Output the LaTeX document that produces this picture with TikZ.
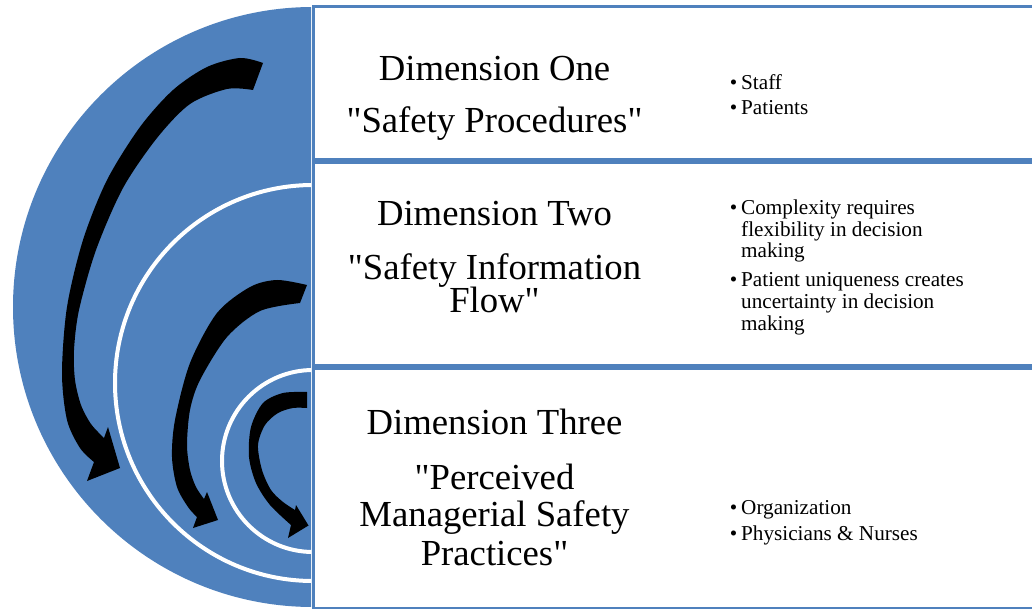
\documentclass[tikz,border=0pt]{standalone}
\usepackage{fontspec}
\setmainfont{Liberation Serif}
\newfontfamily\tnr{Liberation Serif}
\definecolor{dimblue}{HTML}{4F81BD}
\begin{document}
\begin{tikzpicture}[x=1pt,y=-1pt,
  panel/.style={draw=dimblue, line width=3pt, fill=white},
  ttl/.style={anchor=base, font=\tnr\fontsize{36.7}{40}\selectfont, inner sep=0pt},
  bul/.style={anchor=base west, font=\tnr\fontsize{21.2}{22}\selectfont, inner sep=0pt},
  ring/.style={draw=white, line width=4pt},
  blockarrow/.style={fill=black}]
\useasboundingbox (0,0) rectangle (1032,609);
\fill[white] (0,0) rectangle (1032,609);
% half disk and rings
\begin{scope}
  \clip (0,0) rectangle (311,609);
  \fill[dimblue] (313,307) circle[radius=300];
  \draw[ring] (313,383) circle[radius=198];
  \draw[ring] (313,461) circle[radius=91];
\end{scope}
% big arrow
\fill[blockarrow] plot[smooth] coordinates {(263,63) (240,58) (207,67) (173,90) (140,127) (107,180) (83,240) (67,307) (62,373) (67,420) (80,448) (94,462)}
  -- (87,481) -- (120,468) -- (108,427) -- (104,438)
  -- plot[smooth] coordinates {(104,438) (91,424) (81,405) (75,380) (74,350) (79,310) (96,250) (123,188) (157,138) (190,104) (227,89) (253,90)}
  -- cycle;
% middle arrow
\fill[blockarrow] plot[smooth] coordinates {(307,285) (277,280) (250,287) (217,313) (190,363) (175,420) (172,457) (177,487) (188,507) (197,517)}
  -- (193,528) -- (218,520) -- (207,492) -- (204,499)
  -- plot[smooth] coordinates {(204,499) (196,487) (190,470) (187,445) (190,410) (200,380) (227,337) (260,311) (300,303)}
  -- cycle;
% small arrow
\fill[blockarrow] plot[smooth] coordinates {(307,392) (283,393) (263,403) (251,427) (249,457) (256,483) (270,505) (291,525)}
  -- (288,538) -- (308.5,525.5) -- (296,505) -- (295,510)
  -- plot[smooth] coordinates {(295,510) (283,502) (271,490) (262,470) (258,445) (265,425) (278,413) (293,408) (307,408)}
  -- cycle;
% panels
\draw[panel] (313,6.5) rectangle (1040,159.5);
\draw[panel] (313,162.5) rectangle (1040,365.5);
\draw[panel] (313,368.5) rectangle (1040,608);
% titles
\node[ttl] (d1a) at (494.5,80.7) {Dimension One};
\node[ttl] (d1b) at (494.5,132.7) {"Safety Procedures"};
\node[ttl] (d2a) at (494.5,226) {Dimension Two};
\node[ttl] (d2b) at (494.5,279.3) {"Safety Information};
\node[ttl] (d2c) at (494.5,312.5) {Flow"};
\node[ttl] (d3a) at (494.5,434.3) {Dimension Three};
\node[ttl] (d3b) at (494.5,489.3) {"Perceived};
\node[ttl] (d3c) at (494.5,526.7) {Managerial Safety};
\node[ttl] (d3d) at (494.5,565) {Practices"};
% bullets
\node[bul] (b1a) at (741,89.3) {\llap{•\hspace{4pt}}Staff};
\node[bul] (b1b) at (741,115) {\llap{•\hspace{4pt}}Patients};
\node[bul] (b2a) at (741,215) {\llap{•\hspace{4pt}}Complexity requires};
\node[bul] (b2b) at (741,236.5) {flexibility in decision};
\node[bul] (b2c) at (741,258) {making};
\node[bul] (b2d) at (741,287) {\llap{•\hspace{4pt}}Patient uniqueness creates};
\node[bul] (b2e) at (741,308.5) {uncertainty in decision};
\node[bul] (b2f) at (741,330) {making};
\node[bul] (b3a) at (741,514) {\llap{•\hspace{4pt}}Organization};
\node[bul] (b3b) at (741,540) {\llap{•\hspace{4pt}}Physicians \& Nurses};
\end{tikzpicture}
\end{document}
